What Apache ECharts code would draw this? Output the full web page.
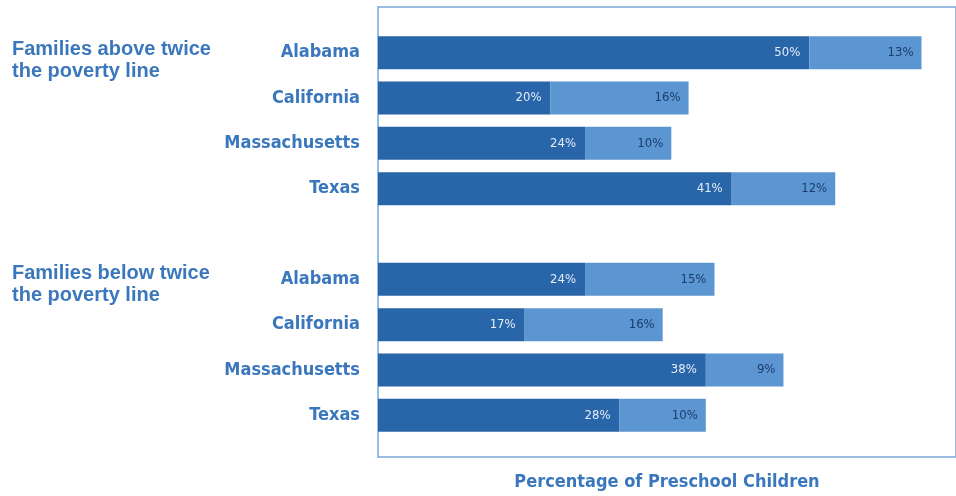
<!DOCTYPE html>
<html>
<head>
<meta charset="utf-8">
<script src="https://cdn.jsdelivr.net/npm/echarts@6/dist/echarts.min.js"></script>
<style>
html,body{margin:0;padding:0;background:#fff;}
#c{width:956px;height:496px;}
</style>
</head>
<body>
<div id="c"></div>
<script>
var states = ['Alabama', 'California', 'Massachusetts', 'Texas'];
var groupTitles = ['Families above twice\nthe poverty line', 'Families below twice\nthe poverty line'];
var aboveDark = [50, 20, 24, 41];
var aboveLight = [13, 16, 10, 12];
var belowDark = [24, 17, 38, 28];
var belowLight = [15, 16, 9, 10];
var axisTitle = 'Percentage of Preschool Children';

var cats = [];
states.forEach(function (s) { cats.push('a|' + s); });
cats.push('gap|');
states.forEach(function (s) { cats.push('b|' + s); });
var darkData = aboveDark.concat(['-'], belowDark);
var lightData = aboveLight.concat(['-'], belowLight);

var blue = '#3a77bc';
var narrow = "'DejaVu Sans Condensed', 'Liberation Sans Narrow', sans-serif";
var chart = echarts.init(document.getElementById('c'), null, {renderer: 'canvas'});
chart.setOption({
  animation: false,
  backgroundColor: '#ffffff',
  title: [
    {text: groupTitles[0], left: 12, top: 38, padding: 0,
     textStyle: {fontFamily: 'Liberation Sans', fontWeight: 'bold', fontSize: 20, lineHeight: 22, color: blue}},
    {text: groupTitles[1], left: 12, top: 262, padding: 0,
     textStyle: {fontFamily: 'Liberation Sans', fontWeight: 'bold', fontSize: 20, lineHeight: 22, color: blue}}
  ],
  grid: [
    {left: 378, right: 0, top: 30, bottom: 54, containLabel: false},
    {left: 378, right: -4, top: 7, bottom: 39, show: true, borderColor: '#7ba7d8', borderWidth: 1.5, backgroundColor: 'transparent'}
  ],
  xAxis: [
    {type: 'value', gridIndex: 0, min: 0, max: 67,
     axisLine: {show: false}, axisTick: {show: false}, axisLabel: {show: false}, splitLine: {show: false},
     name: axisTitle, nameLocation: 'middle', nameGap: 35,
     nameTextStyle: {fontFamily: narrow, fontWeight: 'bold', fontSize: 18, color: blue}},
    {type: 'value', gridIndex: 1, show: false}
  ],
  yAxis: [
    {type: 'category', gridIndex: 0, inverse: true, data: cats,
     axisLine: {show: false}, axisTick: {show: false}, splitLine: {show: false},
     axisLabel: {margin: 18, fontFamily: narrow, fontWeight: 'bold', fontSize: 18, color: blue,
       formatter: function (v) { return v.split('|')[1]; }}},
    {type: 'category', gridIndex: 1, show: false, data: ['x']}
  ],
  series: [
    {type: 'bar', stack: 's', data: darkData, barWidth: 33, xAxisIndex: 0, yAxisIndex: 0,
     itemStyle: {color: '#2865a9'},
     label: {show: true, position: 'insideRight', distance: 9, formatter: '{c}%',
       fontFamily: narrow, fontSize: 13, color: '#e4edf8'}},
    {type: 'bar', stack: 's', data: lightData, barWidth: 33, xAxisIndex: 0, yAxisIndex: 0,
     itemStyle: {color: '#5b96d2'},
     label: {show: true, position: 'insideRight', distance: 8, formatter: '{c}%',
       fontFamily: narrow, fontSize: 13, color: '#1c3d6a'}}
  ]
});
</script>
</body>
</html>
